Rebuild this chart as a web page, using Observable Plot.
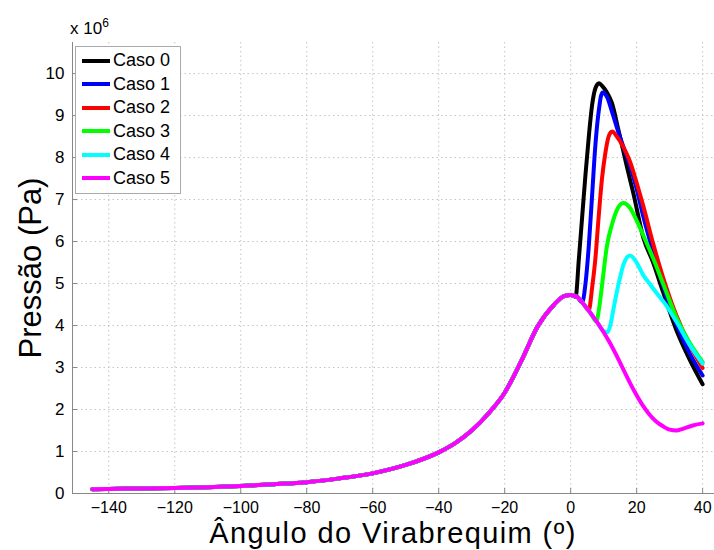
<!DOCTYPE html>
<html><head><meta charset="utf-8">
<script src="https://cdn.jsdelivr.net/npm/d3@7"></script>
<script src="https://cdn.jsdelivr.net/npm/@observablehq/plot@0.6"></script>
<style>
body{margin:0;background:#fff;font-family:"Liberation Sans",Arial,sans-serif;}
#wrap{position:relative;width:714px;height:550px;overflow:hidden;}
#exp{position:absolute;left:70px;top:20px;font-size:17px;line-height:17px;color:#000;white-space:nowrap;}
#exp sup{font-size:12px;vertical-align:7px;line-height:0;}
#ylab{position:absolute;left:30px;top:268px;transform:translate(-50%,-50%) rotate(-90deg);font-size:31px;line-height:31px;white-space:nowrap;}
#xlab{position:absolute;left:393px;top:519px;transform:translateX(-50%);font-size:29px;line-height:29px;letter-spacing:1.4px;white-space:nowrap;}
#legend{position:absolute;left:75px;top:46px;width:104px;background:#fff;border:1px solid #aaa;padding:2px 0 3px 0;}
.item{display:flex;align-items:center;height:23.5px;font-size:18px;}
.sw{width:28px;height:4px;margin-left:6px;margin-right:3px;}
</style></head>
<body><div id="wrap"></div>
<script>
const cases = ["Caso 0","Caso 1","Caso 2","Caso 3","Caso 4","Caso 5"];
const colors = ["#000000","#0000ff","#ff0000","#00ff00","#00ffff","#ff00ff"];
const xTicks = [-140,-120,-100,-80,-60,-40,-20,0,20,40];
const yTicks = [0,1,2,3,4,5,6,7,8,9,10];

// shared compression curve (Pa x 1e6)
const angleBase = [-145,-140,-130,-120,-110,-100,-90,-80,-70,-60,-50,-40,-35,-30,-25,-20,-15,-10,-5,-2,0];
const pressureBase = [0.10,0.11,0.12,0.13,0.15,0.18,0.22,0.27,0.36,0.48,0.68,0.98,1.2,1.5,1.9,2.4,3.15,3.98,4.5,4.7,4.73];

const angle0 = [1.5,2.5,3.5,4.5,5.5,6.5,7.5,8.6,9.6,11,12.5,14.5,17,19,22,25,28,32,36,40];
const pressure0 = [4.68,5.6,6.6,7.6,8.5,9.25,9.65,9.77,9.7,9.55,9.3,8.65,7.8,7.15,6.1,5.5,4.8,3.9,3.2,2.6];
const angle1 = [2,3.5,4.5,5.5,6.5,7.5,8.5,9.6,11,12.5,14,16,18,20,22,25,28,32,36,40];
const pressure1 = [4.68,4.55,5.0,5.9,7.1,8.3,9.1,9.55,9.45,9.1,8.72,8.25,7.8,7.25,6.6,5.75,4.95,4.05,3.35,2.81];
const angle2 = [2,4,5.5,6.5,7.5,8.5,9.5,10.5,11.5,12.6,14,16,18,20,22,25,28,32,36,40];
const pressure2 = [4.68,4.5,4.36,4.9,5.6,6.6,7.5,8.1,8.5,8.62,8.5,8.25,7.9,7.4,6.85,5.95,5.15,4.25,3.55,2.99];
const angle3 = [2,4,6,7.8,8.6,9.5,11,12.5,14,16,18,20,22,25,28,32,36,40];
const pressure3 = [4.68,4.5,4.3,4.1,4.4,4.95,5.9,6.4,6.75,6.92,6.8,6.5,6.15,5.6,5.0,4.2,3.6,3.13];
const angle4 = [2,4,6,8,9.5,10.5,11.2,12,13,14,15,16,18,20,22,24,26,28.8,32,36,40];
const pressure4 = [4.68,4.5,4.3,4.08,3.9,3.85,3.84,4.0,4.4,4.8,5.15,5.45,5.67,5.5,5.2,4.99,4.78,4.5,4.1,3.55,3.09];
const angle5 = [2,4,6,8,10,12,14,16,18,20,22,24,26,28,30,32,34,37,40];
const pressure5 = [4.68,4.5,4.3,4.08,3.84,3.57,3.27,2.95,2.63,2.34,2.08,1.87,1.71,1.6,1.52,1.5,1.54,1.62,1.67];

const tails = [[angle0,pressure0],[angle1,pressure1],[angle2,pressure2],[angle3,pressure3],[angle4,pressure4],[angle5,pressure5]];
const data = [];
tails.forEach(([a,p],i)=>{
  angleBase.forEach((x,j)=>data.push({caso:cases[i],x,y:pressureBase[j]}));
  a.forEach((x,j)=>data.push({caso:cases[i],x,y:p[j]}));
});

const W = 714, H = 550, ML = 72, MR = 0, MT = 42, MB = 57;
const chart = Plot.plot({
  width:W,height:H,
  marginLeft:ML,marginRight:MR,marginTop:MT,marginBottom:MB,
  style:{fontFamily:"Liberation Sans, Arial, sans-serif",fontSize:"17px",color:"#000",background:"#fff"},
  x:{domain:[-151,43.6]},
  y:{domain:[0,10.74]},
  color:{domain:cases,range:colors},
  marks:[
    Plot.gridX(xTicks,{stroke:"#c4c4c4",strokeOpacity:1,strokeDasharray:"1.5,3"}),
    Plot.gridY(yTicks,{stroke:"#c4c4c4",strokeOpacity:1,strokeDasharray:"1.5,3"}),
    Plot.ruleX(xTicks,{stroke:"#888",insetTop:(H-MT-MB)-5}),
    Plot.ruleY(yTicks,{stroke:"#888",insetRight:(W-ML-MR)-5}),
    Plot.axisX(xTicks,{tickSize:0,tickPadding:8,label:null,fontSize:16}),
    Plot.axisY(yTicks,{tickSize:0,tickPadding:8,label:null,fontSize:17}),
    Plot.frame({anchor:"left",stroke:"#888"}),
    Plot.frame({anchor:"bottom",stroke:"#888"}),
    Plot.line(data,{x:"x",y:"y",z:"caso",stroke:"caso",strokeWidth:4,curve:"monotone-x"})
  ]
});
const wrap = document.getElementById("wrap");
wrap.appendChild(chart);
wrap.insertAdjacentHTML("beforeend",
  `<div id="exp">x 10<sup>6</sup></div><div id="ylab">Pressão (Pa)</div><div id="xlab">Ângulo do Virabrequim (º)</div>`);
const leg = document.createElement("div");
leg.id="legend";
cases.forEach((c,i)=>{
  leg.insertAdjacentHTML("beforeend",`<div class="item"><div class="sw" style="background:${colors[i]}"></div><span>${c}</span></div>`);
});
wrap.appendChild(leg);
</script></body></html>
